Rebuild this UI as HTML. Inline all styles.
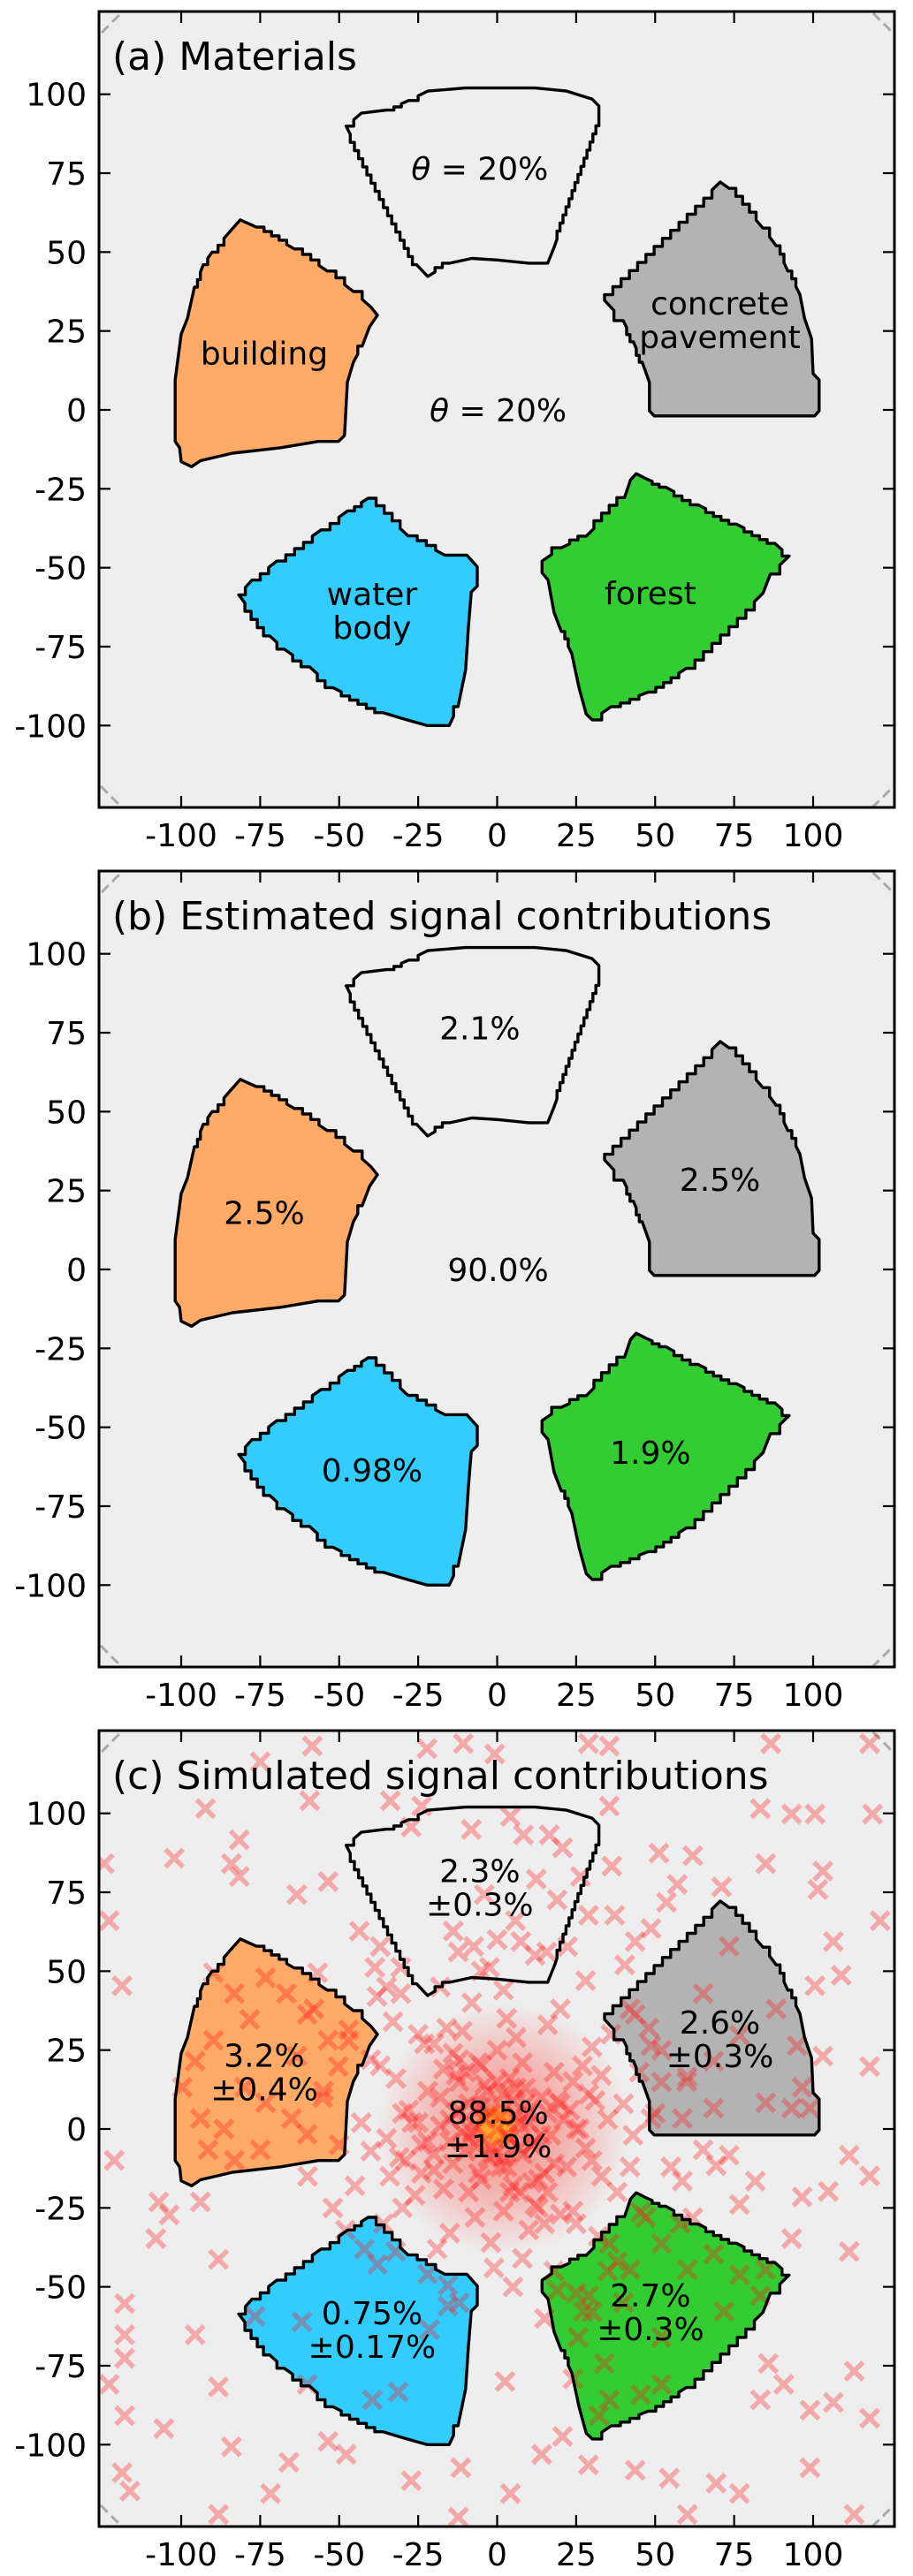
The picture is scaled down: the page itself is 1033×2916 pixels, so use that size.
<!DOCTYPE html>
<html>
<head>
<meta charset="utf-8">
<style>
html,body{margin:0;padding:0;background:#fff;}
svg{display:block;}
text{font-family:"DejaVu Sans","Liberation Sans",sans-serif;fill:#000;}
</style>
</head>
<body>
<svg id="fig" width="1033" height="2916" viewBox="0 0 1033 2916" xmlns="http://www.w3.org/2000/svg">
<defs>
<radialGradient id="densityGrad">
<stop offset="0" stop-color="#ff2a10" stop-opacity="0.55"/>
<stop offset="0.6" stop-color="#ff3020" stop-opacity="0.25"/>
<stop offset="1" stop-color="#ff3020" stop-opacity="0"/>
</radialGradient>
<radialGradient id="coreGrad">
<stop offset="0" stop-color="#ffc02a" stop-opacity="1"/>
<stop offset="0.55" stop-color="#ffa020" stop-opacity="0.8"/>
<stop offset="1" stop-color="#ff5010" stop-opacity="0"/>
</radialGradient>
</defs>
</svg>
<script>
// ---- data ----
const tickValues = [-100,-75,-50,-25,0,25,50,75,100];
const tickLabels = ["-100","-75","-50","-25","0","25","50","75","100"];
const materialNames = ["unlabeled","building","concrete","water","forest","background"];
const materialColors = ["#eeeeee","#ffaa66","#b3b3b3","#33ccff","#33cc33"];
const polyUnlabeled = [[-47.8,89.9],[-43,94],[-35,95],[-28,98],[-22,101],[-10,102],[12,102],[22,101],[30,98.5],[32.2,96.3],[32.2,90],[18,51.5],[16,46.5],[10,46.5],[0,47.5],[-8,48],[-15,46.5],[-22,42.3],[-25.5,46]];
const polyBuilding = [[-81.3,60.2],[-76.2,57.9],[-64.2,51],[-53.8,44],[-45.5,37.5],[-39.9,32.5],[-37.9,30],[-40.4,26.3],[-42.7,20.2],[-45.5,15.1],[-47.4,8.7],[-48.3,-8.1],[-50.2,-10],[-56.6,-10],[-68.7,-12],[-83.8,-13.7],[-93.9,-16.1],[-96.7,-18],[-100,-16.4],[-100.5,-12],[-101.9,-10],[-101.9,9.5],[-100,24],[-98,29],[-95.8,38.9],[-93,46],[-90.2,50],[-84.6,56.5]];
const polyConcrete = [[70.6,72.2],[73.4,70.2],[84.1,57.6],[88.3,52],[92,44],[95.8,36.6],[97.3,29],[99.5,22.6],[100,11.5],[101.9,9.5],[101.9,-0.3],[100.5,-1.9],[49.7,-1.9],[48.2,-0.3],[48.2,8.7],[45.9,15.1],[43.1,21.6],[39.9,28.3],[34,34.7],[34,36.5]];
const polyWater = [[-40.8,-28],[-28.2,-39.9],[-16.6,-46],[-9.6,-46],[-6.3,-49.7],[-6.3,-55.8],[-8.2,-57.7],[-9.1,-68.8],[-10,-82.4],[-12.4,-94],[-15.2,-100],[-22.2,-100],[-30,-97.8],[-36.1,-95.9],[-52,-88],[-59.4,-81.4],[-67.4,-75.8],[-72,-71.6],[-81.8,-58.6],[-77.6,-53.9],[-69.7,-47.9],[-55.7,-38],[-47.3,-32]];
const polyForest = [[44,-20.2],[42.2,-22.2],[40.3,-27.8],[28.2,-40],[20.3,-43.7],[14.2,-47.9],[14.2,-51.6],[16.1,-53.9],[18,-64.2],[20.3,-70.2],[23.6,-77.2],[25.9,-88],[28.2,-96.4],[30.1,-98.2],[36.1,-94],[47.8,-89.4],[59.9,-81.9],[84.1,-58.1],[86.5,-52],[92.4,-46.3],[87.9,-42.3],[75.7,-36.2],[63.6,-30.1],[53.4,-24.5],[46.9,-21.7]];
const labelX = [-5.5,-73.7,70.5,-39.6,48.5,0.3];
const labelY = [76.5,18,28.5,-63.5,-58,0];
const materialLabels = [["θ = 20%"],["building"],["concrete","pavement"],["water","body"],["forest"],["θ = 20%"]];
const estimatedPct = ["2.1","2.5","2.5","0.98","1.9","90.0"];
const simulatedPct = ["2.3","3.2","2.6","0.75","2.7","88.5"];
const simulatedErr = ["0.3","0.4","0.3","0.17","0.3","1.9"];
const scatterX = [-124.4,-122.8,-118.7,-121.2,-117.9,-117.9,-117.9,-122.8,-117.9,-118.7,-116.2,-102.2,-92.3,-81.6,-84.1,-81.6,-75,-63.4,-59.3,-53.5,-58.5,-107.1,-103.8,-108,-93.9,-88.2,-95.6,-105.5,-88.2,-84.1,-71.7,-88.2,-65.9,-53.5,-47.8,-39.5,-27.2,-11.5,-12.3,2.5,4.2,14.1,20.7,28.9,43.7,54.5,60.2,69.3,76.7,85.8,90.7,83.3,99,106.4,113,117.9,99,113,
85,83.3,93.2,100.6,118.8,103.1,101.5,121.2,106.4,108.9,100.6,71,61.9,51.2,57,53.6,48.7,43.7,37.2,40.4,36.3,117.9,86.6,103.1,117.9,111.4,117.9,104.8,96.5,93.2,111.4,81.7,76.7,69.3,58.6,61.9,99,93.2,73.4,65.2,
-33.8,-23.9,-27.2,-8.2,4.2,8.3,16.5,20.7,26.4,35.5,35.5,28.9,-10.7,-22.2,-0.8,
-89.8,-83.2,-73.3,-66.7,-60.1,-78.3,-89.8,-95.6,-79.9,-73.3,-93.9,-86.5,-65.1,-60.1,-55.2,-50.3,-75,-83.2,-91.5,-53.5,-63.4,-99.7,-47,-56.8,
43.7,48.7,52,60.2,68.5,73.4,65.2,76.7,88.3,94.9,85,68.5,58.6,96.5,48.7,
19,27.3,35.5,45.4,52,60.2,68.5,76.7,85,71.8,52,25.6,33.9,24,35.5,45.4,52,32.2,28.9,42.1,83.3,
-32.1,-15.6,-15.6,-61.8,-37.9,-21.4,-60.1,-31.3,-76.6,
-43.6,-37,-30.5,-13.9,-7.4,-2.4,7.5,15.7,22.3,28.9,-38.7,-30.5,12.4,19,-4.1,5.8,-12.3,
0,3,-4,6,-6,8,-9,10,-11,2,1,-3,5,12,-13,14,-14,4,-5,17,-18,15,-12,20,-20,8,-9,22,-22,18,-17,25,-25,0,2,24,-24,13,-14,28,-28,6,-7,27,-26,20,-20,31,-31,10,-11,33,-32,16,-15,35,-35,3,-2,30,-30,25,-25,38,-37,20,-19,40,-40,8,-8,36,-36,32,-33,43,-43,2,-1,45,-45,18,-18,47,-22,28,-47,50,-50,5,-5,42,-42,38,-38,55,-55,12,-12,52,-52,25,58,30,-60,15,60,0,-58,40,-6,7,-2,9,-15,16,-5,4,-24,23,11,-10,-30,30,-40,42,-48,48,-35,35,
1,-2,4,-5,7,-8,2,-3,11,-12,6,-6,14,-15,9,-10,18,-18,13,-13,21,-22,3,-4,26,-27,16,-17,10,-9,-1,0,5,-7,12,-12,19,-20,24,-23,29,-29,7,-6,15,-16,33,-34];
const scatterY = [84.1,66,45.4,-9.9,-55.3,-65.2,-72.6,-80.9,-90.8,-108.9,-114.7,85.8,101.5,91.6,84.1,80,116.3,74.3,104,78.4,121.3,-23.1,-27.2,-34.7,-23.1,-41.3,-65.2,-94.9,-81.7,-100.7,-115.5,-122.1,-105.6,-99,-103.1,-85.8,-111.4,-107.3,-123,-80,-115.5,-103.1,-97.4,-106.4,-108.1,-110.6,-122.1,-112.2,-115.5,-74.3,-80.9,-85.8,-89.1,-86.6,-76.7,-91.6,-107.3,-122.1,
84.1,101.5,99.8,99.8,99.8,81.7,75.9,66,59.4,48.7,45.4,76.7,86.6,87.4,77.5,71.8,63.5,59.4,67.7,52,83.3,122.1,122.1,23.1,19.8,-8.3,-14.9,-19.8,-21.5,-34.7,-38.8,-16.5,-23.9,-11.6,-16.5,-28.1,6.6,6.6,-8.3,-6.6,
104,102.3,95.7,94.9,99,93.2,93.2,89.1,80,102.3,121.3,122.1,122.1,120.5,118.8,
49.5,42.9,47.9,42.9,36.3,34.7,28.1,21.5,13.2,8.3,3.3,0,3.3,-1.7,9.9,19.8,-6.6,-9.9,-6.6,28.1,23.1,13.2,31.4,49.5,
36.3,26.4,14.9,16.5,21.5,57.8,42.9,29.7,38,26.4,8.3,6.6,3.3,13.2,3.3,
-51.2,-57.8,-36.3,-26.4,-36.3,-44.6,-39.6,-46.2,-44.6,-57.8,-66,-66,-74.3,-79.2,-85.8,-84.2,-80.9,-90.8,-52.8,-44.6,-52.8,
-38.8,-49.5,-56.1,-61.1,-42.9,-63.5,-80.9,-83.3,-59.4,
62.7,57.8,51.2,62.7,57.8,51.2,59.4,56.1,57.8,67.7,51.2,42.9,79.2,72.6,74.3,66,56.1,
0,-2,3,4,-5,-8,8,2,-1,11,-12,-9,9,-4,5,10,-11,16,-16,-2,1,-14,15,8,-8,21,-20,-12,12,18,-19,0,2,25,-26,15,-14,-25,24,-6,6,29,-28,20,-21,-27,27,9,-9,-32,31,-15,16,33,-33,3,-3,35,-36,26,-25,-30,30,-20,20,38,-38,8,-7,-41,40,30,-30,-34,34,-2,2,44,-44,18,-18,-45,45,-28,-46,47,28,5,-5,-50,50,38,-38,-42,42,-12,12,55,-55,25,-25,-52,-30,-58,-15,-60,15,60,38,-55,7,-6,5,13,-4,5,20,-20,-5,6,-17,18,5,-10,22,-12,-32,32,45,-45,
4,-6,-3,7,2,-1,-9,12,-5,6,13,-14,-2,3,8,-7,-11,10,-16,17,3,-4,-12,14,0,2,-20,19,5,-3,-8,15,-18,1,-24,22,9,-13,-26,27,11,-10,-20,21,-30,32,17,-15];

// ---- layout ----
const NS = "http://www.w3.org/2000/svg";
const svg = document.getElementById('fig');
const X0 = 562.5, SX = 3.575, SY = 3.573, LEFT = 112, RIGHT = 1012, PH = 901;
const panelTops = [13, 986, 1959];
const panelTitles = ["(a) Materials","(b) Estimated signal contributions","(c) Simulated signal contributions"];
const panelNames = ["materials-panel","estimated-panel","simulated-panel"];
const polys = [polyUnlabeled, polyBuilding, polyConcrete, polyWater, polyForest];
const fillNames = ["unlabeled-region","building-region","concrete-region","water-region","forest-region"];

function mk(tag, attrs, parent){
  const e = document.createElementNS(NS, tag);
  for (const k in attrs) e.setAttribute(k, attrs[k]);
  (parent||svg).appendChild(e);
  return e;
}
function stairPath(poly, sx, sy){
  let pts = [];
  for (let i=0;i<poly.length;i++){
    const a = poly[i], b = poly[(i+1)%poly.length];
    const dx=b[0]-a[0], dy=b[1]-a[1];
    const n = Math.round(Math.max(Math.abs(dx),Math.abs(dy))/2.6);
    pts.push([a[0],a[1]]);
    if (n>1 && Math.abs(dx)>2.5 && Math.abs(dy)>2.5){
      for (let k=1;k<n;k++){
        pts.push([a[0]+dx*k/n, a[1]+dy*(k-1)/n]);
        pts.push([a[0]+dx*k/n, a[1]+dy*k/n]);
      }
    }
  }
  return 'M' + pts.map(p => sx(p[0]).toFixed(1)+','+sy(p[1]).toFixed(1)).join('L') + 'Z';
}

panelTops.forEach((top, pi) => {
  const sx = v => X0 + v*SX;
  const sy = v => top + 451 - v*SY;
  const g = mk('g', {});
  
  
  const clipId = 'clip'+pi;
  const cp = mk('clipPath', {id: clipId}, g);
  mk('rect', {x: LEFT, y: top, width: RIGHT-LEFT, height: PH}, cp);
  const bg = mk('rect', {x: LEFT, y: top, width: RIGHT-LEFT, height: PH, fill: '#eeeeee'}, g);
  
  
  const inner = mk('g', {'clip-path': 'url(#'+clipId+')'}, g);
  const circ = mk('circle', {cx: sx(0), cy: sy(0), r: 173*SX, fill: 'none', stroke: '#aaaaaa', 'stroke-width': 3, 'stroke-dasharray': '11,6'}, inner);
  
  
  const paths = polys.map(p => stairPath(p, sx, sy));
  paths.forEach((d, i) => {
    const f = mk('path', {d: d, fill: materialColors[i], stroke: 'none'}, inner);
    
    
  });
  if (pi === 2){
    const dens = mk('ellipse', {cx: sx(2), cy: sy(0), rx: 40*SX, ry: 40*SY, fill: 'url(#densityGrad)'}, inner);
    
    
    const core = mk('ellipse', {cx: sx(-0.5), cy: sy(1), rx: 8*SX, ry: 8*SY, fill: 'url(#coreGrad)'}, inner);
    
    
    const mg = mk('g', {stroke: '#ff1a1a', 'stroke-opacity': 0.32, 'stroke-width': 5.5, fill: 'none'}, inner);
    
    
    for (let i=0;i<scatterX.length;i++){
      const cx = sx(scatterX[i]), cy = sy(scatterY[i]), h = 10;
      const m = mk('path', {d: `M${cx-h},${cy-h}L${cx+h},${cy+h}M${cx-h},${cy+h}L${cx+h},${cy-h}`}, mg);
      
      
    }
  }
  paths.forEach((d, i) => {
    const o = mk('path', {d: d, fill: 'none', stroke: '#000', 'stroke-width': 3.4, 'stroke-linejoin': 'round'}, inner);
    
    
  });
  for (let i=0;i<6;i++){
    let lines;
    if (pi === 0) lines = materialLabels[i];
    else if (pi === 1) lines = [estimatedPct[i] + '%'];
    else lines = [simulatedPct[i] + '%', '±' + simulatedErr[i] + '%'];
    const lh = 38;
    const cy = sy(labelY[i]) - (lines.length-1)*lh/2;
    lines.forEach((ln, k) => {
      const t = mk('text', {x: sx(labelX[i]), y: cy + k*lh + 13, 'text-anchor': 'middle', 'font-size': 36}, g);
      
      
      if (ln.startsWith('θ')){
        const a = mk('tspan', {'font-style': 'italic'}, t); a.textContent = 'θ';
        const b = mk('tspan', {}, t); b.textContent = ' = 20%';
      } else t.textContent = ln;
    });
  }
  const tt = mk('text', {x: 127, y: top + 66, 'font-size': 44}, g);
  
  
  tt.textContent = panelTitles[pi];
  const fr = mk('rect', {x: LEFT, y: top, width: RIGHT-LEFT, height: PH, fill: 'none', stroke: '#000', 'stroke-width': 3}, g);
  
  
  const tg = mk('g', {stroke: '#000', 'stroke-width': 2.2}, g);
  
  
  tickValues.forEach((v, i) => {
    const x = sx(v), y = sy(v), L = 13;
    mk('line', {x1: x, y1: top, x2: x, y2: top+L}, tg);
    mk('line', {x1: x, y1: top+PH, x2: x, y2: top+PH-L}, tg);
    mk('line', {x1: LEFT, y1: y, x2: LEFT+L, y2: y}, tg);
    mk('line', {x1: RIGHT, y1: y, x2: RIGHT-L, y2: y}, tg);
    const xl = mk('text', {x: x, y: top + PH + 44, 'text-anchor': 'middle', 'font-size': 36}, g);
    
    
    xl.textContent = tickLabels[i];
    const yl = mk('text', {x: 98, y: y + 13, 'text-anchor': 'end', 'font-size': 36}, g);
    
    
    yl.textContent = tickLabels[i];
  });
});
</script>
</body>
</html>
